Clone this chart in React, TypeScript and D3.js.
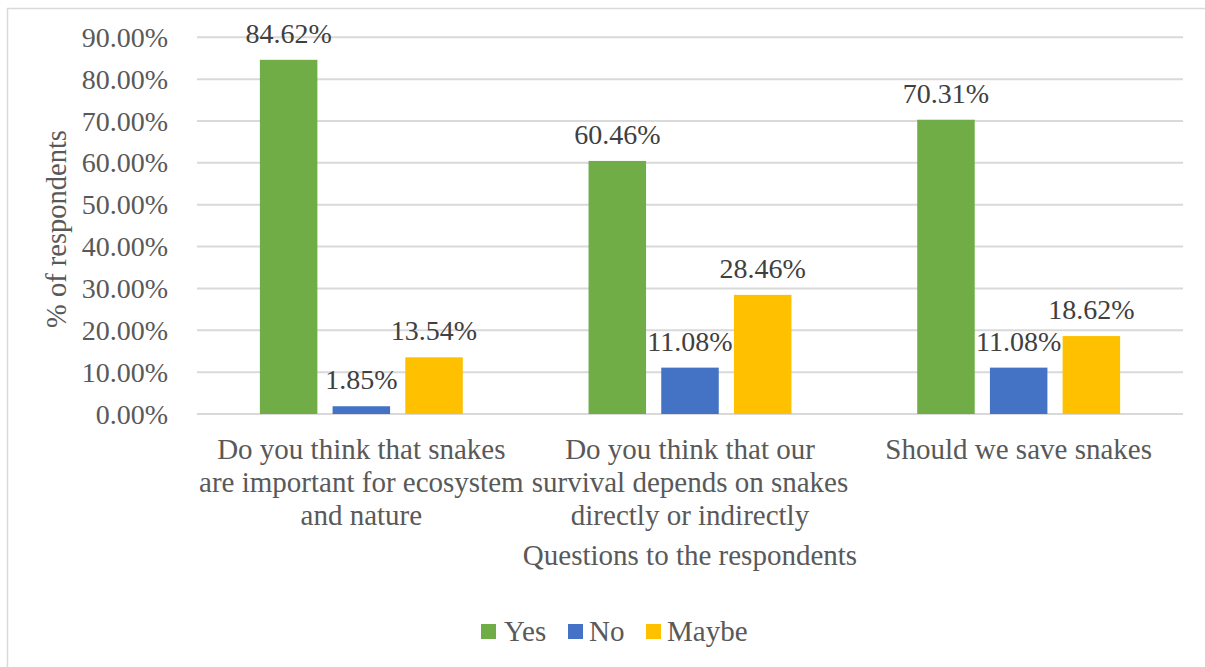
import React from "react";
import * as d3 from "d3";

const categories: string[][] = [
  ["Do you think that snakes", "are important for ecosystem", "and nature"],
  ["Do you think that our", "survival depends on snakes", "directly or indirectly"],
  ["Should we save snakes"],
];
const seriesNames = ["Yes", "No", "Maybe"];
const seriesColors = ["#70AD47", "#4472C4", "#FFC000"];
const yesValues = [84.62, 60.46, 70.31];
const noValues = [1.85, 11.08, 11.08];
const maybeValues = [13.54, 28.46, 18.62];
const yTicks = [0, 10, 20, 30, 40, 50, 60, 70, 80, 90];
const yTitle = "% of respondents";
const xTitle = "Questions to the respondents";

const W = 1205;
const H = 667;
const FONT = "'Liberation Serif', 'Times New Roman', serif";

export default function App() {
  const series = [yesValues, noValues, maybeValues];
  const catIdx = categories.map((_, i) => String(i));
  const x0 = d3.scaleBand<string>().domain(catIdx).range([197, 1183]).padding(0);
  const x1 = d3
    .scaleBand<string>()
    .domain(seriesNames)
    .range([0, x0.bandwidth()])
    .paddingInner(0.209)
    .paddingOuter(0.865);
  const y = d3.scaleLinear().domain([0, 90]).range([414, 37.3]);

  const legendItems = [
    { name: "Yes", sx: 481, tx: 504 },
    { name: "No", sx: 568, tx: 589 },
    { name: "Maybe", sx: 646, tx: 667 },
  ];

  return (
    <svg
      width={W}
      height={H}
      style={{ position: "absolute", left: 0, top: 0, background: "#fff" }}
      fontFamily={FONT}
    >
      <rect x={7.5} y={8.5} width={W} height={H} fill="#fff" stroke="#d9d9d9" strokeWidth={1.5} />
      {yTicks.map((t) => (
        <g key={t}>
          <line x1={197} x2={1183} y1={y(t)} y2={y(t)} stroke="#d9d9d9" strokeWidth={2} />
          <text x={168} y={y(t) + 9.5} textAnchor="end" fontSize={28} fill="#595959">
            {t.toFixed(2) + "%"}
          </text>
        </g>
      ))}
      {categories.map((_, ci) =>
        series.map((vals, si) => {
          const bx = (x0(String(ci)) as number) + (x1(seriesNames[si]) as number);
          const bw = x1.bandwidth();
          const top = y(vals[ci]);
          return (
            <g key={ci + "-" + si}>
              <rect x={bx} y={top} width={bw} height={y(0) - top} fill={seriesColors[si]} />
              <text x={bx + bw / 2} y={top - 17} textAnchor="middle" fontSize={28} fill="#404040">
                {vals[ci].toFixed(2) + "%"}
              </text>
            </g>
          );
        })
      )}
      {categories.map((lines, ci) => (
        <text
          key={"c" + ci}
          x={(x0(String(ci)) as number) + x0.bandwidth() / 2}
          textAnchor="middle"
          fontSize={29}
          fill="#595959"
        >
          {lines.map((l, li) => (
            <tspan key={li} x={(x0(String(ci)) as number) + x0.bandwidth() / 2} y={458.5 + li * 33}>
              {l}
            </tspan>
          ))}
        </text>
      ))}
      <text x={690} y={565} textAnchor="middle" fontSize={29} fill="#595959">
        {xTitle}
      </text>
      <text
        transform={`translate(66,229) rotate(-90)`}
        textAnchor="middle"
        fontSize={28.5}
        fill="#595959"
      >
        {yTitle}
      </text>
      {legendItems.map((it, i) => (
        <g key={it.name}>
          <rect x={it.sx} y={624} width={15} height={15} fill={seriesColors[i]} />
          <text x={it.tx} y={640.5} fontSize={29} fill="#595959">
            {it.name}
          </text>
        </g>
      ))}
    </svg>
  );
}
